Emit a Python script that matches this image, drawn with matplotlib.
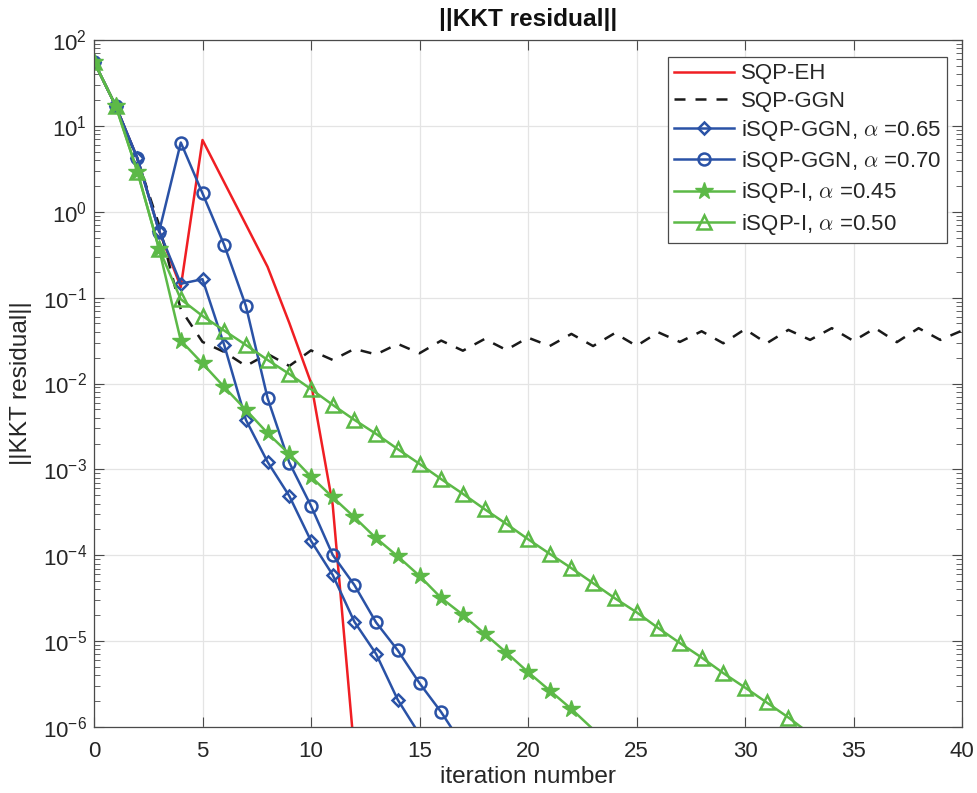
import numpy as np
import matplotlib
matplotlib.use("Agg")
import matplotlib.pyplot as plt
from matplotlib.ticker import LogLocator, FuncFormatter, NullFormatter, MultipleLocator

plt.rcParams['font.family'] = ['Liberation Sans', 'DejaVu Sans']
plt.rcParams['mathtext.fontset'] = 'cm'

# KKT residual norm per iteration for each solver
sqp_eh = [56, 17.1, 4.2, 0.6, 0.133, 6.85, 2.2, 0.71, 0.228, 0.0507, 0.0102,
          3.86e-4, 5e-7]
sqp_ggn = [56, 17.1, 4.1, 0.70, 0.073, 0.0305, 0.0233, 0.016, 0.0221, 0.016,
           0.0243, 0.0188, 0.0253, 0.0218, 0.0289, 0.0225, 0.0316, 0.0241,
           0.033, 0.0246, 0.0342, 0.0273, 0.0378, 0.0273, 0.0386, 0.0274,
           0.0395, 0.0305, 0.0406, 0.0294, 0.0429, 0.0294, 0.0421, 0.0322,
           0.0441, 0.0313, 0.0441, 0.0303, 0.0441, 0.0322, 0.0413]
isqp_ggn_065 = [56, 17.1, 4.2, 0.6, 0.145, 0.164, 0.0281, 0.00377, 0.00122,
                4.9e-4, 1.47e-4, 5.9e-5, 1.68e-5, 7.1e-6, 2.07e-6, 8.2e-7]
isqp_ggn_070 = [56, 17.1, 4.2, 0.586, 6.4, 1.64, 0.411, 0.080, 0.00675, 0.0012,
                3.76e-4, 1.01e-4, 4.5e-5, 1.65e-5, 7.8e-6, 3.24e-6, 1.49e-6,
                6.1e-7]
isqp_i_045 = [56, 17.1, 2.93, 0.366, 0.0316, 0.0171, 0.0091, 0.00493, 0.00264,
              0.00151, 8.2e-4, 4.74e-4, 2.77e-4, 1.58e-4, 9.7e-5, 5.75e-5,
              3.18e-5, 2.02e-5, 1.22e-5, 7.37e-6, 4.36e-6, 2.66e-6, 1.62e-6,
              9.4e-7]
isqp_i_050 = [56, 17.1, 2.93, 0.37, 0.0957, 0.0612, 0.0413, 0.0281, 0.0188,
              0.0129, 0.0086, 0.00564, 0.00377, 0.00259, 0.00172, 0.00116,
              7.7e-4, 5.19e-4, 3.44e-4, 2.32e-4, 1.54e-4, 1.04e-4, 7.08e-5,
              4.73e-5, 3.16e-5, 2.17e-5, 1.42e-5, 9.5e-6, 6.44e-6, 4.24e-6,
              2.88e-6, 1.93e-6, 1.29e-6, 8.3e-7]

labels = ['SQP-EH', 'SQP-GGN',
          r'iSQP-GGN, $\alpha$ =0.65', r'iSQP-GGN, $\alpha$ =0.70',
          r'iSQP-I, $\alpha$ =0.45', r'iSQP-I, $\alpha$ =0.50']

YMIN, YMAX = 1e-6, 1e2
XMIN, XMAX = 0, 40

RED = '#f01e23'
BLUE = '#2a52a6'
GREEN = '#5cb947'
LW = 1.8

fig = plt.figure(figsize=(9.77, 7.93), dpi=100)
ax = fig.add_axes([94 / 977, 1 - 727 / 793, (962 - 94) / 977, (727 - 40) / 793])


def visible(vals):
    return [i for i, v in enumerate(vals) if v >= YMIN]


def plot_series(vals, **kw):
    it = np.arange(len(vals))
    return ax.plot(it, vals, lw=LW, markevery=visible(vals), **kw)[0]


h1 = plot_series(sqp_eh, color=RED)
h2 = plot_series(sqp_ggn, color='#1a1a1a', dashes=(4.4, 4.0))
h3 = plot_series(isqp_ggn_065, color=BLUE, marker='D', ms=6.4,
                 mfc='none', mec=BLUE, mew=LW)
h4 = plot_series(isqp_ggn_070, color=BLUE, marker='o', ms=8.6,
                 mfc='none', mec=BLUE, mew=LW)
h5 = plot_series(isqp_i_045, color=GREEN, marker='*', ms=13,
                 mfc=GREEN, mec=GREEN, mew=1.0)
h6 = plot_series(isqp_i_050, color=GREEN, marker='^', ms=9.8,
                 mfc='none', mec=GREEN, mew=LW)

ax.set_yscale('log')
ax.set_xlim(XMIN, XMAX)
ax.set_ylim(YMIN, YMAX)

ax.xaxis.set_major_locator(MultipleLocator(5))
ax.yaxis.set_major_locator(LogLocator(base=10, numticks=20))
ax.yaxis.set_minor_locator(LogLocator(base=10, subs=np.arange(2, 10), numticks=20))
ax.yaxis.set_minor_formatter(NullFormatter())
ax.yaxis.set_major_formatter(
    FuncFormatter(lambda v, p: r'$\mathregular{10^{%d}}$' % int(round(np.log10(v)))))

AXC = '#262626'
ax.grid(True, which='major', color='#e4e4e4', lw=0.9)
ax.set_axisbelow(True)
for s in ax.spines.values():
    s.set_color('#4a4a4a')
    s.set_linewidth(0.9)
ax.tick_params(which='both', direction='in', top=True, right=True,
               colors='#4a4a4a', labelcolor=AXC, labelsize=16)
ax.tick_params(axis='x', which='major', length=7, pad=10)
ax.tick_params(axis='y', which='major', length=7, pad=5)
ax.tick_params(which='minor', length=4)

ax.set_xlabel('iteration number', fontsize=17.6, color=AXC, labelpad=3)
ax.set_ylabel('||KKT residual||', fontsize=17.6, color=AXC, labelpad=8)
ax.set_title('||KKT residual||', fontsize=17.6, fontweight='bold', color='#111111', pad=10)

leg = ax.legend([h1, h2, h3, h4, h5, h6], labels, loc='upper right',
                bbox_to_anchor=(0.983, 0.975), borderaxespad=0, fontsize=16,
                handlelength=2.7, handletextpad=0.3, labelspacing=0.28,
                borderpad=0.28, fancybox=False, framealpha=1, numpoints=1)
leg.get_frame().set_edgecolor('#4a4a4a')
leg.get_frame().set_linewidth(0.9)
for t in leg.get_texts():
    t.set_color(AXC)

fig.savefig('out.png', dpi=100)
